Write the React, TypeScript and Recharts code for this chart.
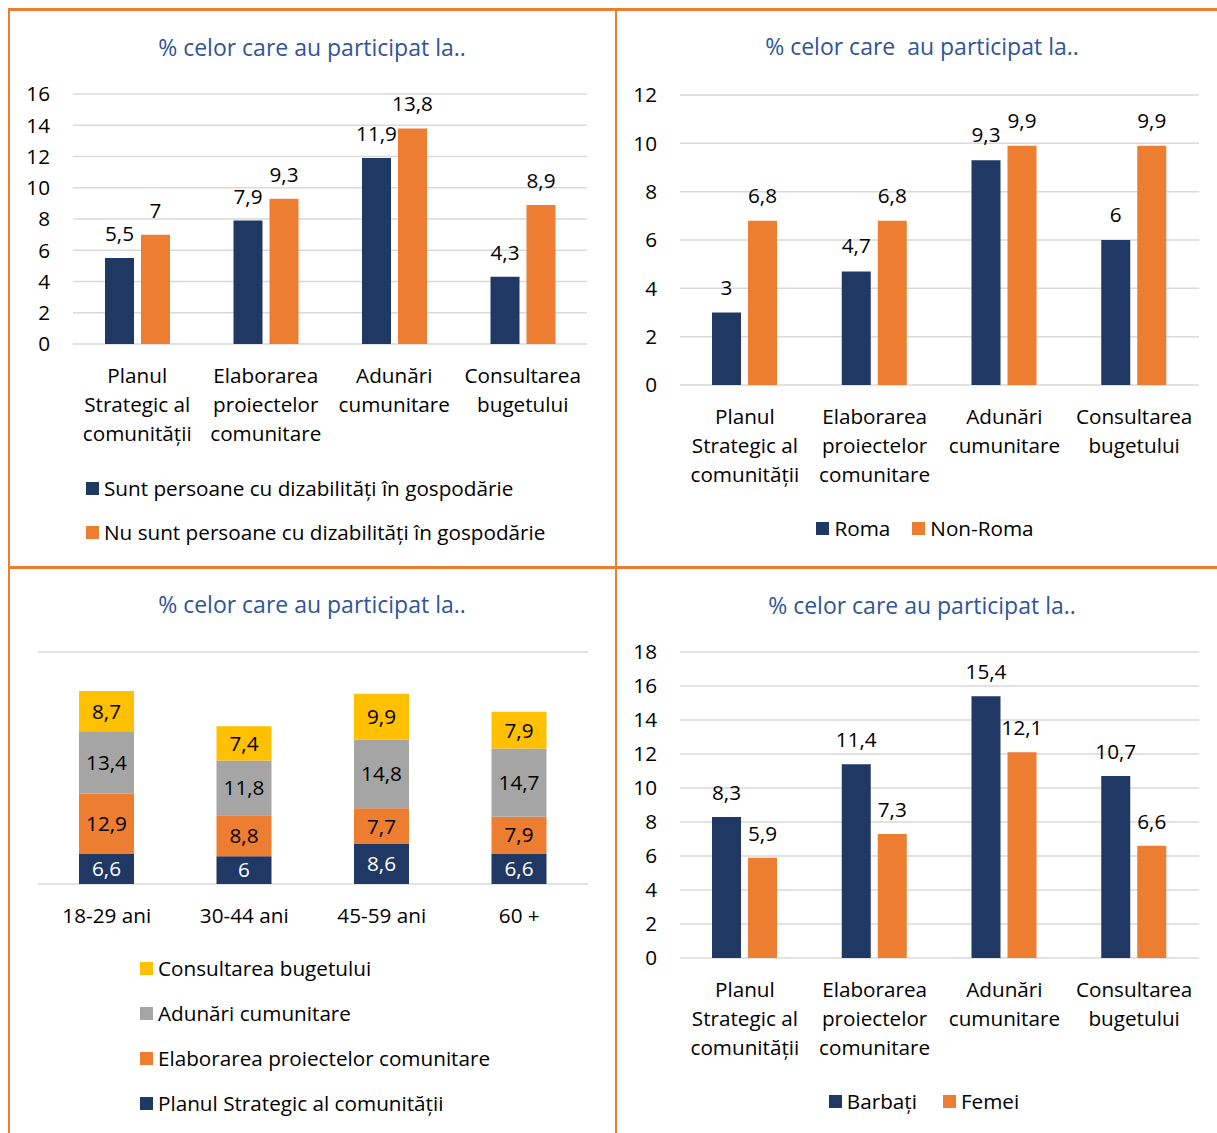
import React from 'react';
import { BarChart, Bar, XAxis, YAxis, CartesianGrid, LabelList, Legend } from 'recharts';

const FONT = "'Open Sans', 'Noto Sans', sans-serif";
const NAVY = '#203864';
const ORANGE = '#ED7D31';
const GRAY = '#A5A5A5';
const YELLOW = '#FFC000';
const TITLE_BLUE = '#2F5597';
const GRID = '#D9D9D9';
const TEXT = '#000000';
const FRAME = '#ED7D31';

// ---- data ----
const categories = [
  'Planul Strategic al comunității',
  'Elaborarea proiectelor comunitare',
  'Adunări cumunitare',
  'Consultarea bugetului',
];
const categoryLines = [
  ['Planul', 'Strategic al', 'comunității'],
  ['Elaborarea', 'proiectelor', 'comunitare'],
  ['Adunări', 'cumunitare'],
  ['Consultarea', 'bugetului'],
];

const seriesDisability = ['Sunt persoane cu dizabilități în gospodărie', 'Nu sunt persoane cu dizabilități în gospodărie'];
const disabilityYes = [5.5, 7.9, 11.9, 4.3];
const disabilityNo = [7, 9.3, 13.8, 8.9];

const seriesEthnic = ['Roma', 'Non-Roma'];
const roma = [3, 4.7, 9.3, 6];
const nonRoma = [6.8, 6.8, 9.9, 9.9];

const ageGroups = ['18-29 ani', '30-44 ani', '45-59 ani', '60 +'];
const seriesAge = categories;
const agePlanul = [6.6, 6, 8.6, 6.6];
const ageElaborarea = [12.9, 8.8, 7.7, 7.9];
const ageAdunari = [13.4, 11.8, 14.8, 14.7];
const ageConsultarea = [8.7, 7.4, 9.9, 7.9];

const seriesGender = ['Barbați', 'Femei'];
const barbati = [8.3, 11.4, 15.4, 10.7];
const femei = [5.9, 7.3, 12.1, 6.6];

const titleText = '% celor care au participat la..';
const titleText2 = '% celor care  au participat la..';

const ticks16 = [0, 2, 4, 6, 8, 10, 12, 14, 16];
const ticks12 = [0, 2, 4, 6, 8, 10, 12];
const ticks50 = [0, 10, 20, 30, 40, 50];
const ticks18 = [0, 2, 4, 6, 8, 10, 12, 14, 16, 18];

// ---- tables built from arrays ----
const data1 = categories.map((c, i) => ({ cat: c, a: disabilityYes[i], b: disabilityNo[i] }));
const data2 = categories.map((c, i) => ({ cat: c, a: roma[i], b: nonRoma[i] }));
const data3 = ageGroups.map((c, i) => ({
  cat: c,
  p: agePlanul[i],
  e: ageElaborarea[i],
  a: ageAdunari[i],
  c: ageConsultarea[i],
}));
const data4 = categories.map((c, i) => ({ cat: c, a: barbati[i], b: femei[i] }));

const fmt = (v: any) => String(v).replace('.', ',');

const FS = 20.7;
const TFS = 23;

function CategoryTick(props: any) {
  const { x, y, payload } = props;
  const idx = categories.indexOf(payload.value);
  const lines = idx >= 0 ? categoryLines[idx] : [String(payload.value)];
  return (
    <text x={x} y={y} textAnchor="middle" fill={TEXT} fontSize={FS}>
      {lines.map((l, i) => (
        <tspan key={i} x={x} y={y + 36.5 + i * 29.3}>
          {l}
        </tspan>
      ))}
    </text>
  );
}

function SimpleTick(props: any) {
  const { x, y, payload } = props;
  return (
    <text x={x} y={y + 36.5} textAnchor="middle" fill={TEXT} fontSize={FS}>
      {payload.value}
    </text>
  );
}

function Swatch({ color }: { color: string }) {
  return (
    <span
      style={{ display: 'inline-block', width: 13, height: 13, background: color, marginRight: 5, flex: '0 0 auto' }}
    />
  );
}

function ordered(payload: any[], order: string[], reverse: boolean) {
  const items = [...(payload || [])].sort((a, b) => order.indexOf(a.value) - order.indexOf(b.value));
  if (reverse) items.reverse();
  return items;
}

function makeRowsLegend(rowH: number, order: string[], reverse: boolean) {
  return (props: any) => {
    const items = ordered(props.payload, order, reverse);
    return (
      <div style={{ fontFamily: FONT, fontSize: FS, color: TEXT }}>
        {items.map((it: any, i: number) => (
          <div key={i} style={{ display: 'flex', alignItems: 'center', height: rowH, whiteSpace: 'nowrap' }}>
            <Swatch color={it.color} />
            <span>{it.value}</span>
          </div>
        ))}
      </div>
    );
  };
}

function makeInlineLegend(gap: number, order: string[]) {
  return (props: any) => {
    const items = ordered(props.payload, order, false);
    return (
      <div
        style={{
          fontFamily: FONT,
          fontSize: FS,
          color: TEXT,
          display: 'flex',
          justifyContent: 'center',
          alignItems: 'center',
          height: 30,
        }}
      >
        {items.map((it: any, i: number) => (
          <div key={i} style={{ display: 'flex', alignItems: 'center', marginLeft: i ? gap : 0, whiteSpace: 'nowrap' }}>
            <Swatch color={it.color} />
            <span>{it.value}</span>
          </div>
        ))}
      </div>
    );
  };
}

function Title({ cx, cy, text }: { cx: number; cy: number; text: string }) {
  return (
    <div
      style={{
        position: 'absolute',
        left: cx - 250,
        width: 500,
        top: cy - 16,
        height: 32,
        lineHeight: '32px',
        textAlign: 'center',
        color: TITLE_BLUE,
        fontSize: TFS,
        fontFamily: FONT,
        whiteSpace: 'pre',
      }}
    >
      {text}
    </div>
  );
}

function Line({ l, t, w, h }: { l: number; t: number; w: number; h: number }) {
  return <div style={{ position: 'absolute', left: l, top: t, width: w, height: h, background: FRAME }} />;
}

const labelStyle = { fontSize: FS, fill: TEXT };
const yTick = { fontSize: FS, fill: TEXT };

export default function App() {
  return (
    <div
      style={{
        position: 'absolute',
        left: 0,
        top: 0,
        width: 1217,
        height: 1133,
        background: '#fff',
        fontFamily: FONT,
        overflow: 'hidden',
      }}
    >
      {/* frame */}
      <Line l={7.5} t={8} w={1212} h={2.5} />
      <Line l={7.5} t={8} w={2.5} h={1130} />
      <Line l={614.5} t={8} w={2.5} h={1130} />
      <Line l={7.5} t={566} w={1212} h={2.5} />

      <Title cx={312} cy={46.5} text={titleText} />
      <Title cx={922} cy={45.5} text={titleText2} />
      <Title cx={312} cy={603.5} text={titleText} />
      <Title cx={922} cy={604.5} text={titleText} />

      {/* Chart 1 */}
      <div style={{ position: 'absolute', left: 10, top: 10 }}>
        <BarChart
          width={600}
          height={550}
          data={data1}
          margin={{ top: 84, right: 23, left: 0, bottom: 186 }}
          barGap={7}
        >
          <CartesianGrid vertical={false} stroke={GRID} strokeWidth={1.5} />
          <XAxis dataKey="cat" axisLine={false} tickLine={false} tickSize={0} height={30} interval={0} tick={(p: any) => <CategoryTick {...p} />} />
          <YAxis
            width={63}
            domain={[0, 16]}
            ticks={ticks16}
            axisLine={false}
            tickLine={false}
            tickSize={0}
            tickMargin={23}
            tick={yTick}
            interval={0}
          />
          <Legend
            layout="horizontal"
            verticalAlign="middle"
            align="center"
            wrapperStyle={{ top: 456, left: 76, width: 520 }}
            content={makeRowsLegend(44, seriesDisability, false)}
          />
          <Bar dataKey="a" name={seriesDisability[0]} fill={NAVY} barSize={29} isAnimationActive={false}>
            <LabelList dataKey="a" position="top" offset={17} formatter={fmt} style={labelStyle} />
          </Bar>
          <Bar dataKey="b" name={seriesDisability[1]} fill={ORANGE} barSize={29} isAnimationActive={false}>
            <LabelList dataKey="b" position="top" offset={17} formatter={fmt} style={labelStyle} />
          </Bar>
        </BarChart>
      </div>

      {/* Chart 2 */}
      <div style={{ position: 'absolute', left: 620, top: 10 }}>
        <BarChart
          width={597}
          height={555}
          data={data2}
          margin={{ top: 85, right: 18, left: 0, bottom: 150 }}
          barGap={7}
        >
          <CartesianGrid vertical={false} stroke={GRID} strokeWidth={1.5} />
          <XAxis dataKey="cat" axisLine={false} tickLine={false} tickSize={0} height={30} interval={0} tick={(p: any) => <CategoryTick {...p} />} />
          <YAxis
            width={60}
            domain={[0, 12]}
            ticks={ticks12}
            axisLine={false}
            tickLine={false}
            tickSize={0}
            tickMargin={23}
            tick={yTick}
            interval={0}
          />
          <Legend
            layout="horizontal"
            verticalAlign="middle"
            align="center"
            wrapperStyle={{ top: 503, left: 10, width: 590 }}
            content={makeInlineLegend(22, seriesEthnic)}
          />
          <Bar dataKey="a" name={seriesEthnic[0]} fill={NAVY} barSize={29} isAnimationActive={false}>
            <LabelList dataKey="a" position="top" offset={18} formatter={fmt} style={labelStyle} />
          </Bar>
          <Bar dataKey="b" name={seriesEthnic[1]} fill={ORANGE} barSize={29} isAnimationActive={false}>
            <LabelList dataKey="b" position="top" offset={18} formatter={fmt} style={labelStyle} />
          </Bar>
        </BarChart>
      </div>

      {/* Chart 3 */}
      <div style={{ position: 'absolute', left: 10, top: 572 }}>
        <BarChart
          width={600}
          height={555}
          data={data3}
          margin={{ top: 80, right: 22, left: 28, bottom: 213 }}
        >
          <CartesianGrid vertical={false} stroke={GRID} strokeWidth={1.5} />
          <XAxis dataKey="cat" axisLine={false} tickLine={false} tickSize={0} height={30} interval={0} tick={(p: any) => <SimpleTick {...p} />} />
          <YAxis width={0} domain={[0, 50]} ticks={ticks50} axisLine={false} tickLine={false} tick={false} interval={0} />
          <Legend
            layout="horizontal"
            verticalAlign="middle"
            align="center"
            wrapperStyle={{ top: 373.5, left: 130, width: 460 }}
            content={makeRowsLegend(45, seriesAge, true)}
          />
          <Bar dataKey="p" name={seriesAge[0]} stackId="s" fill={NAVY} barSize={55} isAnimationActive={false}>
            <LabelList dataKey="p" position="center" formatter={fmt} style={{ fontSize: FS, fill: '#FFFFFF' }} />
          </Bar>
          <Bar dataKey="e" name={seriesAge[1]} stackId="s" fill={ORANGE} barSize={55} isAnimationActive={false}>
            <LabelList dataKey="e" position="center" formatter={fmt} style={labelStyle} />
          </Bar>
          <Bar dataKey="a" name={seriesAge[2]} stackId="s" fill={GRAY} barSize={55} isAnimationActive={false}>
            <LabelList dataKey="a" position="center" formatter={fmt} style={labelStyle} />
          </Bar>
          <Bar dataKey="c" name={seriesAge[3]} stackId="s" fill={YELLOW} barSize={55} isAnimationActive={false}>
            <LabelList dataKey="c" position="center" formatter={fmt} style={labelStyle} />
          </Bar>
        </BarChart>
      </div>

      {/* Chart 4 */}
      <div style={{ position: 'absolute', left: 620, top: 572 }}>
        <BarChart
          width={597}
          height={555}
          data={data4}
          margin={{ top: 80, right: 18, left: 0, bottom: 139 }}
          barGap={7}
        >
          <CartesianGrid vertical={false} stroke={GRID} strokeWidth={1.5} />
          <XAxis dataKey="cat" axisLine={false} tickLine={false} tickSize={0} height={30} interval={0} tick={(p: any) => <CategoryTick {...p} />} />
          <YAxis
            width={60}
            domain={[0, 18]}
            ticks={ticks18}
            axisLine={false}
            tickLine={false}
            tickSize={0}
            tickMargin={23}
            tick={yTick}
            interval={0}
          />
          <Legend
            layout="horizontal"
            verticalAlign="middle"
            align="center"
            wrapperStyle={{ top: 514, left: 10, width: 588 }}
            content={makeInlineLegend(26, seriesGender)}
          />
          <Bar dataKey="a" name={seriesGender[0]} fill={NAVY} barSize={29} isAnimationActive={false}>
            <LabelList dataKey="a" position="top" offset={17} formatter={fmt} style={labelStyle} />
          </Bar>
          <Bar dataKey="b" name={seriesGender[1]} fill={ORANGE} barSize={29} isAnimationActive={false}>
            <LabelList dataKey="b" position="top" offset={17} formatter={fmt} style={labelStyle} />
          </Bar>
        </BarChart>
      </div>
    </div>
  );
}
